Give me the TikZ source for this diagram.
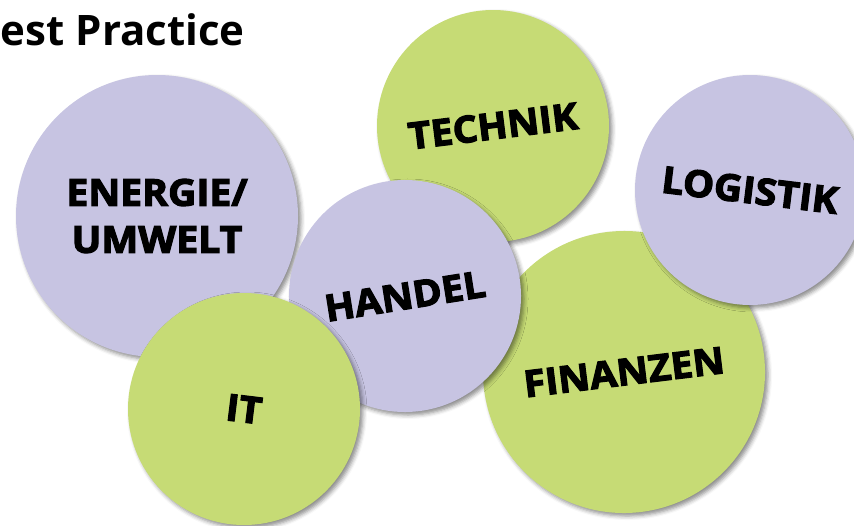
\documentclass[tikz,border=0pt]{standalone}
\usepackage{fontspec}
\setmainfont{Open Sans}
\newfontfamily\bubblefont{Open Sans Bold}[FakeBold=3.2,FakeStretch=1.06]
\newfontfamily\titlefont{Open Sans Bold}
\usetikzlibrary{shadows.blur}

\definecolor{lila}{RGB}{199,196,226}
\definecolor{gruen}{RGB}{198,219,117}

\tikzset{
  bubble/.style={circle, inner sep=0pt, minimum size=2*#1 pt, align=center,
    blur shadow={shadow xshift=3pt, shadow yshift=-3pt, shadow blur radius=4pt, shadow opacity=45},
    font={\bubblefont\fontsize{37}{47}\selectfont}},
}

\begin{document}
\begin{tikzpicture}[x=1pt, y=-1pt]
 \useasboundingbox (0,0) rectangle (854,525);

 %title
 \node[anchor=base east, inner sep=0pt, font={\titlefont\fontsize{42}{50}\selectfont}] (titel) at (245,45) {Best Practice};

 %bubbles, back to front
 \foreach \nm/\px/\py/\r/\farbe/\winkel/\txt in {
     energie/157/216/141/lila/0/{ENERGIE/\\UMWELT},
     technik/493/126/116/gruen/7/TECHNIK,
     finanzen/624/372/141/gruen/7/FINANZEN,
     logistik/750/190/115/lila/-7/LOGISTIK,
     handel/405/296/116/lila/9/HANDEL,
     it/244/409/116/gruen/-7/IT} {
   \node[bubble=\r, fill=\farbe, rotate=\winkel] (\nm) at (\px,\py) {\txt};
 }

\end{tikzpicture}
\end{document}
